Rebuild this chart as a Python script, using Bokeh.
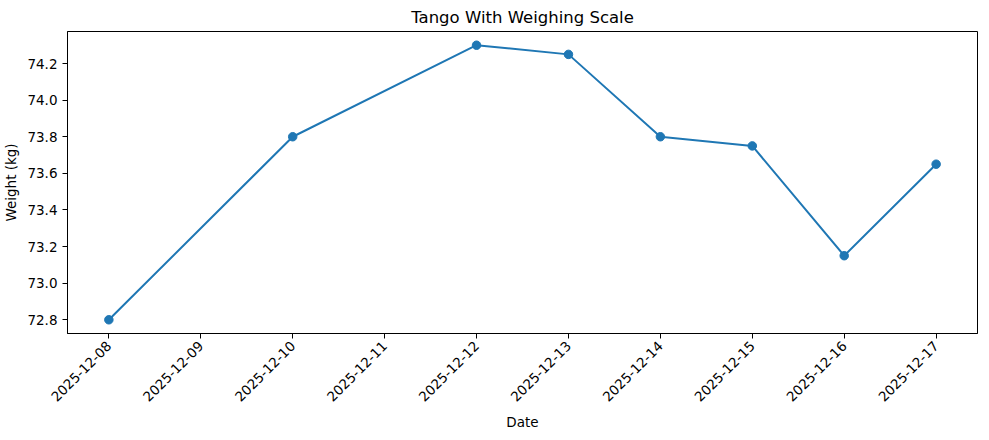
import math
import pandas as pd
from bokeh.plotting import figure
from bokeh.models import FixedTicker, DatetimeTickFormatter, Range1d, NumeralTickFormatter
from bokeh.embed import file_html
from bokeh.resources import INLINE

dates = ["2025-12-08", "2025-12-10", "2025-12-12", "2025-12-13",
         "2025-12-14", "2025-12-15", "2025-12-16", "2025-12-17"]
weights = [72.8, 73.8, 74.3, 74.25, 73.8, 73.75, 73.15, 73.65]
tick_dates = ["2025-12-08", "2025-12-09", "2025-12-10", "2025-12-11", "2025-12-12",
              "2025-12-13", "2025-12-14", "2025-12-15", "2025-12-16", "2025-12-17"]
y_ticks = [72.8, 73.0, 73.2, 73.4, 73.6, 73.8, 74.0, 74.2]

x = pd.to_datetime(dates)
xt = pd.to_datetime(tick_dates)

xmin, xmax = x.min(), x.max()
xpad = (xmax - xmin) * 0.05
ymin, ymax = min(weights), max(weights)
ypad = (ymax - ymin) * 0.05

FONT = "DejaVu Sans"
BLUE = "#1f77b4"

p = figure(output_backend="svg", toolbar_location=None,
           x_axis_type="datetime",
           frame_width=910, frame_height=302,
           min_border_left=64, min_border_right=1, min_border_top=24, min_border_bottom=5,
           x_range=Range1d(xmin - xpad, xmax + xpad),
           y_range=Range1d(ymin - ypad, ymax + ypad),
           title="Tango With Weighing Scale")

p.line(x, weights, line_color=BLUE, line_width=2)
p.scatter(x, weights, size=8.5, fill_color=BLUE, line_color=BLUE)

p.title.align = "center"
p.title.text_font = FONT
p.title.text_font_size = "16.5px"
p.title.text_font_style = "normal"
p.title.text_color = "black"

p.xgrid.visible = False
p.ygrid.visible = False
p.outline_line_color = "black"
p.outline_line_alpha = 1.0
p.outline_line_width = 1

p.xaxis.ticker = FixedTicker(ticks=[t.value / 1e6 for t in xt])
p.xaxis.formatter = DatetimeTickFormatter(days="%Y-%m-%d", months="%Y-%m-%d",
                                          hours="%Y-%m-%d")
p.xaxis.major_label_orientation = math.pi / 4
p.yaxis.ticker = FixedTicker(ticks=y_ticks)
p.yaxis.formatter = NumeralTickFormatter(format="0.0")

for ax in (p.xaxis, p.yaxis):
    ax.major_tick_in = 0
    ax.major_tick_out = 5
    ax.minor_tick_line_color = None
    ax.major_tick_line_color = "black"
    ax.axis_line_color = "black"
    ax.major_label_text_font = FONT
    ax.major_label_text_font_size = "13.5px"
    ax.major_label_text_color = "black"
    ax.axis_label_text_font = FONT
    ax.axis_label_text_font_size = "13.5px"
    ax.axis_label_text_font_style = "normal"
    ax.axis_label_text_color = "black"

p.xaxis.axis_label_standoff = 5
p.xaxis.axis_label = "Date"
p.yaxis.axis_label = "Weight (kg)"

open("out.html", "w").write(file_html(p, INLINE))
